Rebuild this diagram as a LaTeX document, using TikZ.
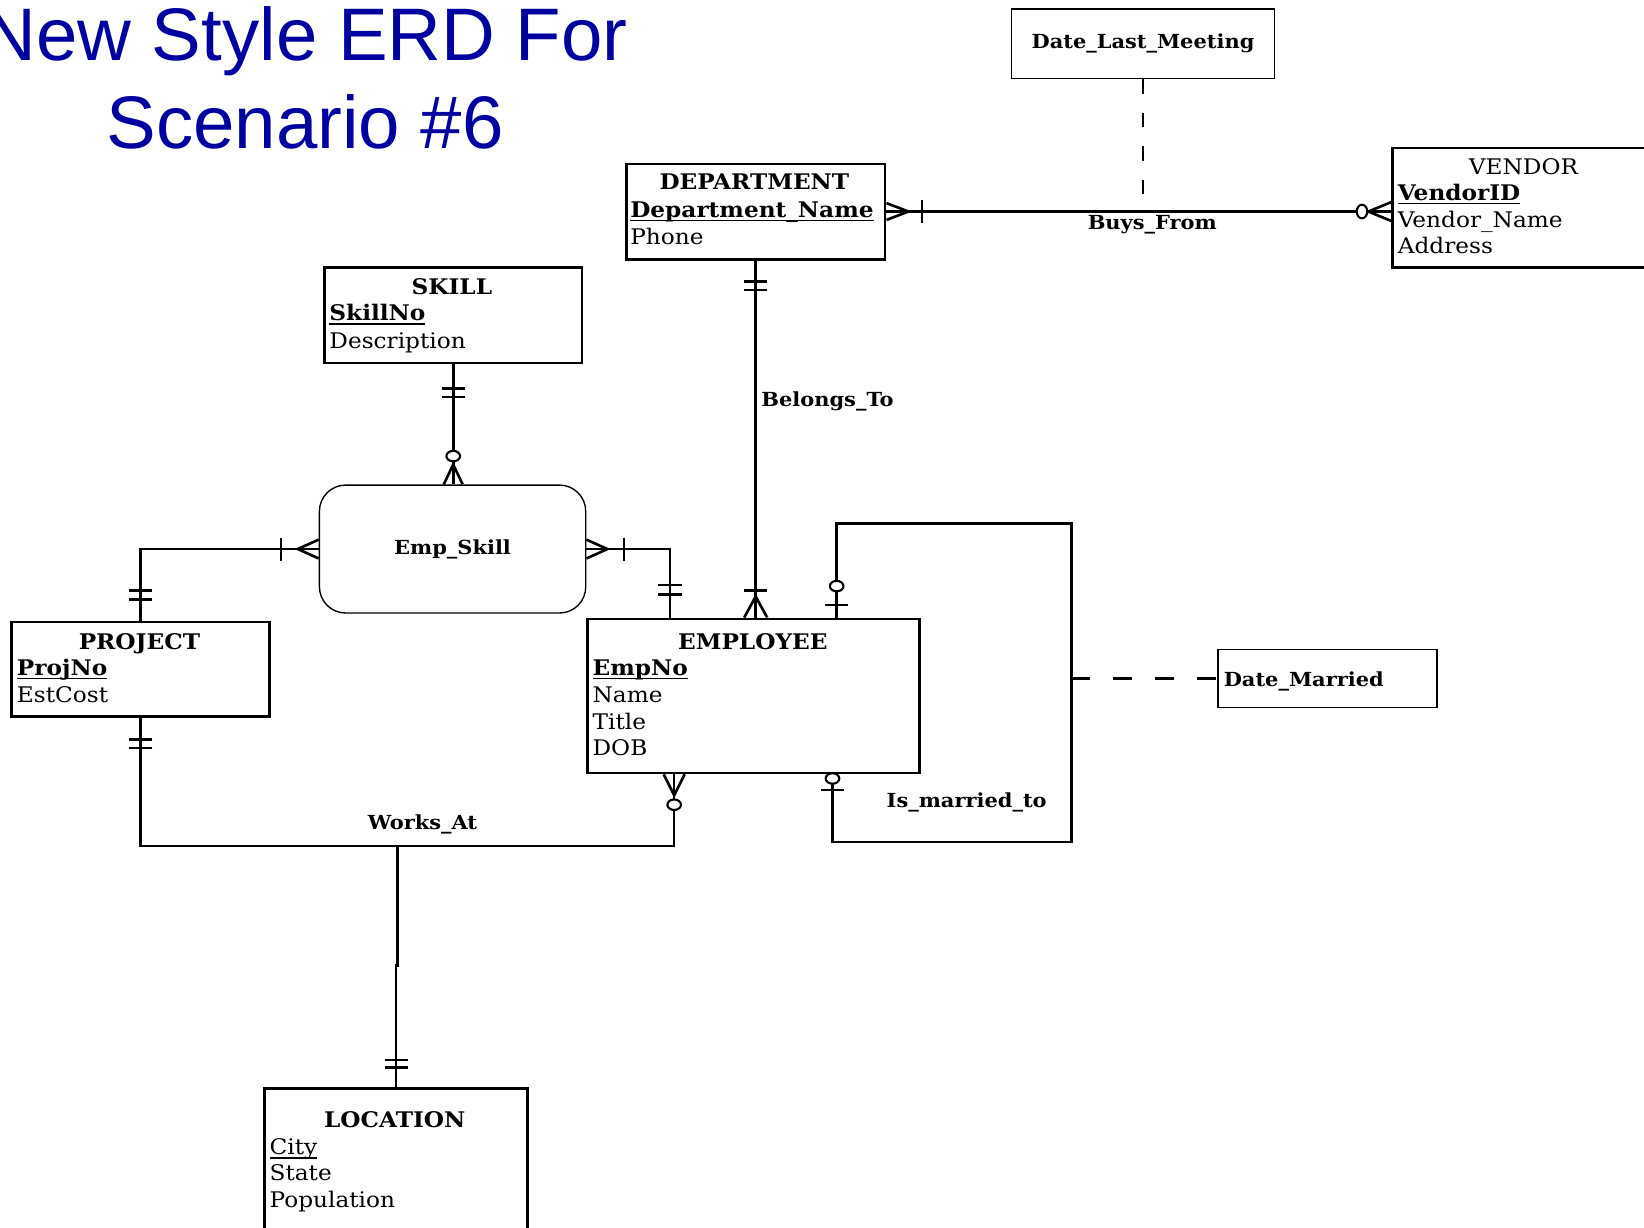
\documentclass[tikz,border=0pt]{standalone}
\usepackage{fontspec}
\setmainfont{DejaVu Serif}[FakeStretch=1.08]
\newfontfamily\titlefont{Liberation Sans}
\usetikzlibrary{calc}
\definecolor{titleblue}{RGB}{0,0,160}
\newcommand\efont{\fontsize{20.5}{26}\selectfont}
\newcommand\rfont{\bfseries\fontsize{18.5}{22}\selectfont}
\newcommand\keyattr[1]{\setbox0\hbox{#1}\rlap{\rule[-4pt]{\wd0}{1.5pt}}\box0}
\begin{document}
\begin{tikzpicture}[x=1pt,y=-1pt,
  titletext/.style={anchor=base, inner sep=0pt, text=titleblue, font=\titlefont\fontsize{71}{84}\selectfont},
  entity/.style={draw, line width=2.5pt, anchor=north west, inner sep=0pt},
  attr/.style={draw, line width=1.3pt, anchor=north west, inner sep=0pt, font=\rfont},
  assoc/.style={draw, line width=1.3pt, rounded corners=25pt, anchor=north west, inner sep=0pt, font=\rfont},
  ename/.style={anchor=base, inner sep=0pt, font=\efont\bfseries},
  etext/.style={anchor=base west, inner sep=0pt, font=\efont},
  rel/.style={anchor=base, inner sep=0pt, font=\rfont},
  conn/.style={line width=2.5pt},
  sym/.style={line width=2.5pt},
  dashA/.style={line width=2.5pt, dash pattern=on 14pt off 18pt},
  dashB/.style={line width=2.5pt, dash pattern=on 18pt off 22pt},
  pics/bars/.style 2 args={code={\draw[sym] (#1,-11) -- (#1,11) (#2,-11) -- (#2,11);}},
  pics/onebar/.style={code={\draw[sym] (#1,-11) -- (#1,11);}},
  pics/crow/.style 2 args={code={\draw[sym] (0,-#2) -- (#1,0) -- (0,#2);}},
  pics/ring/.style={code={\draw[line width=2pt,fill=white] (#1,0) circle[x radius=5,y radius=6.5];}},
]
\useasboundingbox (0,0) rectangle (1568,1171);

% title
\node[titletext] (t1) at (291,58) {New Style ERD For};
\node[titletext] (t2) at (291,142) {Scenario \#6};

% entities
\node[entity, minimum width=247, minimum height=91] (dept) at (596,155) {};
\node[ename] (deptT) at (719.5,181) {DEPARTMENT};
\node[etext, font=\efont\bfseries] (deptK) at (601,207) {\keyattr{Department\_Name}};
\node[etext] (deptA1) at (601,233) {Phone};

\node[entity, minimum width=260, minimum height=114] (vendor) at (1327,140) {};
\node[ename, font=\efont] (vendT) at (1453,166) {VENDOR};
\node[etext, font=\efont\bfseries] (vendK) at (1333,191) {\keyattr{VendorID}};
\node[etext] (vendA1) at (1333,217) {Vendor\_Name};
\node[etext] (vendA2) at (1333,242) {Address};

\node[entity, minimum width=246, minimum height=91] (skill) at (308,254) {};
\node[ename] (skillT) at (431,281) {SKILL};
\node[etext, font=\efont\bfseries] (skillK) at (314,306) {\keyattr{SkillNo}};
\node[etext] (skillA1) at (314,332) {Description};

\node[entity, minimum width=246, minimum height=90] (proj) at (10,592) {};
\node[ename] (projT) at (133,619) {PROJECT};
\node[etext, font=\efont\bfseries] (projK) at (16,644) {\keyattr{ProjNo}};
\node[etext] (projA1) at (16,670) {EstCost};

\node[entity, minimum width=317, minimum height=147] (emp) at (559,589) {};
\node[ename] (empT) at (718,619) {EMPLOYEE};
\node[etext, font=\efont\bfseries] (empK) at (565,644) {\keyattr{EmpNo}};
\node[etext] (empA1) at (565,670) {Name};
\node[etext] (empA2) at (565,696) {Title};
\node[etext] (empA3) at (565,721) {DOB};

\node[entity, minimum width=251, minimum height=160] (loc) at (251,1037) {};
\node[ename] (locT) at (376.5,1075) {LOCATION};
\node[etext] (locK) at (257,1101) {\keyattr{City}};
\node[etext] (locA1) at (257,1126) {State};
\node[etext] (locA2) at (257,1152) {Population};

\node[assoc, minimum width=254, minimum height=122] (es) at (304,462) {Emp\_Skill};

\node[attr, minimum width=251, minimum height=66] (dlm) at (964,8) {Date\_Last\_Meeting};
\node[attr, minimum width=209, minimum height=55] (dm) at (1161,619) {};
\node[rel, anchor=base west] (dmT) at (1167,655) {Date\_Married};

% Belongs_To
\coordinate (btE) at (dept.south |- emp.north);
\draw[conn] (dept.south) -- (btE);
\node[rel, anchor=base west] (lblBT) at (726,388) {Belongs\_To};
\pic[rotate=-90] at (dept.south) {bars={20}{28}};
\pic[rotate=90] at (btE) {crow={20}{11}};
\pic[rotate=90] at (btE) {onebar=26};

% Buys_From
\coordinate (bfV) at (dept.east -| vendor.west);
\draw[conn] (dept.east) -- (bfV);
\node[rel] (lblBF) at (1099,219) {Buys\_From};
\pic at (dept.east) {crow={21}{8}};
\pic at (dept.east) {onebar=34};
\pic[rotate=180] at (bfV) {crow={22}{9}};
\pic[rotate=180] at (bfV) {ring=28};
\coordinate (bfJ) at (dlm.south |- dept.east);
\draw[dashA] (dlm.south) -- (bfJ);

% SKILL - Emp_Skill
\coordinate (skE) at (skill.south |- es.north);
\draw[conn] (skill.south) -- (skE);
\pic[rotate=-90] at (skill.south) {bars={23}{31}};
\pic[rotate=90] at (skE) {crow={19}{9}};
\pic[rotate=90] at (skE) {ring=27};

% Emp_Skill - PROJECT
\draw[conn] (es.west) -| (proj.north);
\pic[rotate=180] at (es.west) {crow={20}{9}};
\pic[rotate=180] at (es.west) {onebar=36};
\pic[rotate=90] at (proj.north) {bars={20}{29}};

% Emp_Skill - EMPLOYEE
\coordinate (esE) at ($(emp.north west)+(80,0)$);
\draw[conn] (es.east) -| (esE);
\pic at (es.east) {crow={20}{9}};
\pic at (es.east) {onebar=36};
\pic[rotate=90] at (esE) {bars={22}{31}};

% Works_At
\coordinate (wj) at (379,807);
\coordinate (waE) at ($(emp.south west)+(84,0)$);
\draw[conn] (proj.south) |- (wj) -| (waE);
\node[rel] (lblWA) at (403,791) {Works\_At};
\pic[rotate=-90] at (proj.south) {bars={21}{29}};
\pic[rotate=-90] at (waE) {crow={20}{10}};
\pic[rotate=-90] at (waE) {ring=29};
\coordinate (jog) at (loc.north |- 0,921);
\draw[conn] (loc.north) -- (jog) -- (jog -| wj) -- (wj);
\pic[rotate=90] at (loc.north) {bars={19}{26}};

% Is_married_to
\coordinate (mt) at ($(emp.north west)+(239,0)$);
\coordinate (mb) at ($(emp.south west)+(235,0)$);
\coordinate (mR) at (1022,499);
\draw[conn] (mt) |- (mR) -- (1022,803) -| (mb);
\node[rel] (lblIM) at (922,770) {Is\_married\_to};
\pic[rotate=90] at (mt) {onebar=12};
\pic[rotate=90] at (mt) {ring=30};
\pic[rotate=-90] at (mb) {onebar=15};
\pic[rotate=-90] at (mb) {ring=4};
\coordinate (mJ) at (mR |- dm.west);
\draw[dashB] (mJ) -- (dm.west);
\end{tikzpicture}
\end{document}
